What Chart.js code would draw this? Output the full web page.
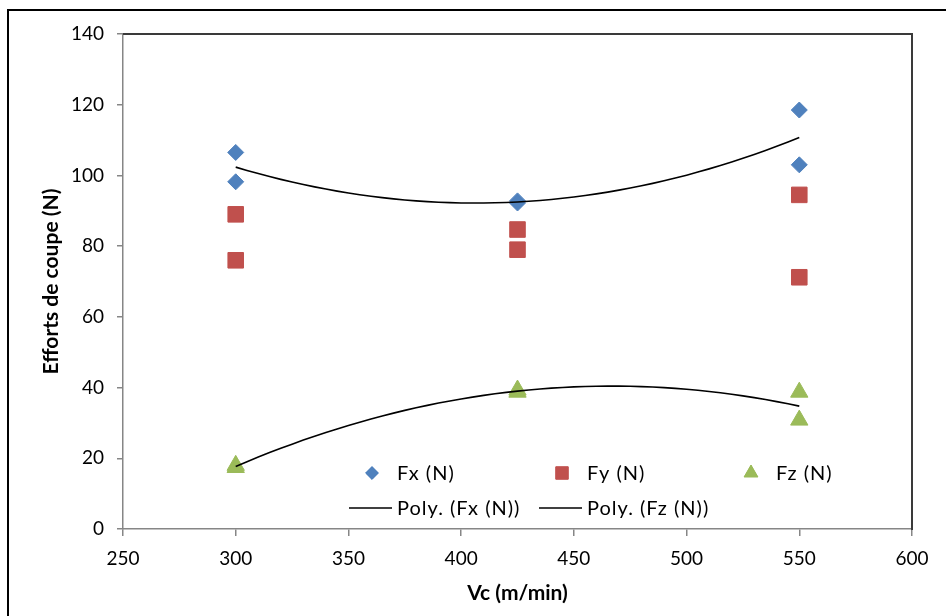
<!DOCTYPE html>
<html>
<head>
<meta charset="utf-8">
<script src="https://cdn.jsdelivr.net/npm/chart.js@4.4.1/dist/chart.umd.min.js"></script>
<style>
  html, body { margin: 0; padding: 0; background: #fff; overflow: hidden; }
  #wrap { width: 946px; height: 616px; position: relative; }
</style>
</head>
<body>
<div id="wrap"><canvas id="myChart" width="946" height="616"></canvas></div>
<script>
// measured points (two runs per cutting speed)
const vc = [300, 300, 425, 425, 550, 550];
const fx = [106.5, 98.2, 92.8, 92.2, 118.5, 103.0];
const fy = [89.0, 76.0, 84.7, 79.0, 94.5, 71.2];
const fz = [18.0, 17.4, 39.3, 38.7, 38.7, 30.8];

const seriesLabels = ['Fx (N)', 'Fy (N)', 'Fz (N)', 'Poly. (Fx (N))', 'Poly. (Fz (N))'];
const xTicks = [250, 300, 350, 400, 450, 500, 550, 600];
const yTicks = [0, 20, 40, 60, 80, 100, 120, 140];

const FONT = 'Lato, "Open Sans", "Liberation Sans", sans-serif';

// 2nd order least squares, like the spreadsheet "Poly." trendline
const polyFit2 = (xs, ys) => {
  const x0 = 425, s = 100;
  let n = 0, s1 = 0, s2 = 0, s3 = 0, s4 = 0, t0 = 0, t1 = 0, t2 = 0;
  xs.forEach((xv, i) => {
    const u = (xv - x0) / s, y = ys[i];
    n++; s1 += u; s2 += u * u; s3 += u * u * u; s4 += u * u * u * u;
    t0 += y; t1 += u * y; t2 += u * u * y;
  });
  const det3 = (m) =>
    m[0][0] * (m[1][1] * m[2][2] - m[1][2] * m[2][1]) -
    m[0][1] * (m[1][0] * m[2][2] - m[1][2] * m[2][0]) +
    m[0][2] * (m[1][0] * m[2][1] - m[1][1] * m[2][0]);
  const A = [[n, s1, s2], [s1, s2, s3], [s2, s3, s4]];
  const T = [t0, t1, t2];
  const D = det3(A);
  const coef = [0, 1, 2].map((k) => det3(A.map((row, r) => row.map((v, c) => (c === k ? T[r] : v)))) / D);
  return (xv) => {
    const u = (xv - x0) / s;
    return coef[0] + coef[1] * u + coef[2] * u * u;
  };
};

const trendPoints = (ys) => {
  const f = polyFit2(vc, ys);
  const lo = Math.min(...vc), hi = Math.max(...vc);
  const pts = [];
  for (let xv = lo; xv <= hi; xv += 5) pts.push({ x: xv, y: f(xv) });
  return pts;
};

const toPts = (ys) => ys.map((y, i) => ({ x: vc[i], y }));

const frame = {
  id: 'frame',
  beforeDraw(chart) {
    const { ctx } = chart;
    ctx.save();
    ctx.strokeStyle = '#000';
    ctx.lineWidth = 2;
    ctx.beginPath();
    ctx.moveTo(8, 700);
    ctx.lineTo(8, 10);
    ctx.lineTo(960, 10);
    ctx.stroke();
    ctx.restore();
  },
  afterDraw(chart) {
    const { ctx, chartArea: a } = chart;
    ctx.save();
    ctx.strokeStyle = '#3a3a3a';
    ctx.lineWidth = 2;
    ctx.beginPath();
    ctx.moveTo(a.left, a.top);
    ctx.lineTo(a.right, a.top);
    ctx.lineTo(a.right, a.bottom + 1);
    ctx.stroke();
    ctx.restore();
  },
};

// legend drawn inside the plot area, two rows like the original
const innerLegend = {
  id: 'innerLegend',
  afterDraw(chart) {
    const { ctx, chartArea: a } = chart;
    const cols = [a.left + 274, a.left + 464, a.left + 653];
    const rows = [a.bottom - 56, a.bottom - 21];
    ctx.save();
    ctx.font = '20px ' + FONT;
    ctx.letterSpacing = '1px';
    ctx.fillStyle = '#000';
    ctx.textBaseline = 'middle';
    chart.data.datasets.forEach((ds, i) => {
      const row = i < 3 ? 0 : 1;
      const col = i < 3 ? i : i - 3;
      const tx = cols[col], ty = rows[row];
      if (ds.showLine) {
        ctx.strokeStyle = ds.borderColor;
        ctx.lineWidth = 1.6;
        ctx.beginPath();
        ctx.moveTo(tx - 48, ty);
        ctx.lineTo(tx - 5, ty);
        ctx.stroke();
      } else {
        ctx.fillStyle = ds.backgroundColor;
        ctx.strokeStyle = ds.borderColor;
        Chart.helpers.drawPoint(ctx, {
          pointStyle: ds.pointStyle,
          radius: ds.pointRadius * 0.8,
          borderWidth: 1,
        }, tx - 25, ty);
        ctx.fill();
      }
      ctx.fillStyle = '#000';
      ctx.fillText(ds.label, tx, ty + 1);
    });
    ctx.restore();
  },
};

const ctx = document.getElementById('myChart');

new Chart(ctx, {
  type: 'scatter',
  data: {
    datasets: [
      {
        label: seriesLabels[0],
        data: toPts(fx),
        pointStyle: 'rectRot',
        pointRadius: 8,
        backgroundColor: '#4F81BD',
        borderColor: '#4F81BD',
        borderWidth: 1,
        order: 1,
      },
      {
        label: seriesLabels[1],
        data: toPts(fy),
        pointStyle: 'rect',
        pointRadius: 11,
        backgroundColor: '#C0504D',
        borderColor: '#C0504D',
        borderWidth: 1,
        order: 1,
      },
      {
        label: seriesLabels[2],
        data: toPts(fz),
        pointStyle: 'triangle',
        pointRadius: 10,
        backgroundColor: '#9BBB59',
        borderColor: '#9BBB59',
        borderWidth: 1,
        order: 1,
      },
      {
        label: seriesLabels[3],
        data: trendPoints(fx),
        showLine: true,
        pointRadius: 0,
        borderColor: '#000',
        borderWidth: 1.6,
        tension: 0,
        order: 0,
      },
      {
        label: seriesLabels[4],
        data: trendPoints(fz),
        showLine: true,
        pointRadius: 0,
        borderColor: '#000',
        borderWidth: 1.6,
        tension: 0,
        order: 0,
      },
    ],
  },
  options: {
    responsive: false,
    animation: false,
    layout: { padding: { left: 0, top: 34, right: 34, bottom: 0 } },
    plugins: {
      legend: { display: false },
      tooltip: { enabled: false },
    },
    scales: {
      x: {
        type: 'linear',
        min: 250,
        max: 600,
        afterBuildTicks: (scale) => { scale.ticks = xTicks.map((v) => ({ value: v })); },
        afterFit: (scale) => { scale.height = 87; },
        ticks: { font: { family: FONT, size: 19 }, color: '#000', padding: 11, maxRotation: 0 },
        grid: { drawOnChartArea: false, drawTicks: true, tickLength: 7, color: '#868686', lineWidth: 1.5 },
        border: { color: '#868686', width: 1.5 },
        title: {
          display: true,
          text: 'Vc (m/min)',
          font: { family: FONT, size: 21, weight: 'bold' },
          color: '#000',
          padding: { top: 0, bottom: 10 },
        },
      },
      y: {
        type: 'linear',
        min: 0,
        max: 140,
        afterBuildTicks: (scale) => { scale.ticks = yTicks.map((v) => ({ value: v })); },
        afterFit: (scale) => { scale.width = 123; },
        ticks: { font: { family: FONT, size: 19 }, color: '#000', padding: 13 },
        grid: { drawOnChartArea: false, drawTicks: true, tickLength: 6, color: '#868686', lineWidth: 1.5 },
        border: { color: '#868686', width: 1.5 },
        title: {
          display: true,
          text: 'Efforts de coupe (N)',
          font: { family: FONT, size: 21, weight: 'bold' },
          color: '#000',
          padding: { top: 39, bottom: 0 },
        },
      },
    },
  },
  plugins: [frame, innerLegend],
});
</script>
</body>
</html>
